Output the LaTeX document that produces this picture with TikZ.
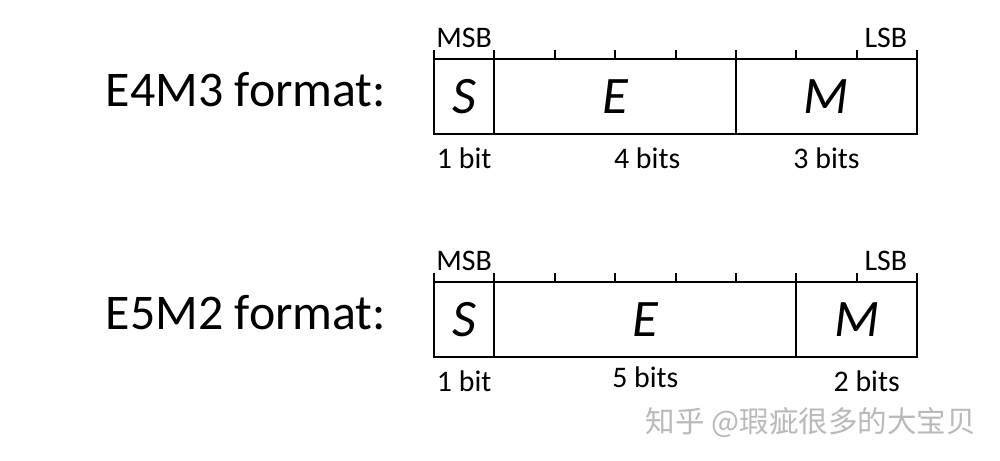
\documentclass[tikz,border=0pt]{standalone}
\usepackage{fontspec}
\setmainfont{Carlito}
\newfontfamily\cjkfont{Noto Sans CJK SC}
\usetikzlibrary{positioning}

\newcommand{\bitw}{1.208cm}

\begin{document}
\begin{tikzpicture}[x=0.02cm,y=-0.02cm,line width=1.1pt,node distance=0.2cm,
  field/.style={draw,outer sep=0pt,inner sep=0pt,minimum height=1.5cm,font=\fontsize{30}{34}\selectfont\itshape},
  title/.style={inner sep=0pt,font=\fontsize{28.4}{34}\selectfont},
  tag/.style={inner sep=0pt,font=\fontsize{17}{20}\selectfont},
  width/.style={inner sep=0pt,font=\fontsize{17}{20}\selectfont},
  credit/.style={inner sep=0pt,text=gray!55,font=\fontsize{16.8}{20}\selectfont\cjkfont}]
\useasboundingbox (0,0) rectangle (1000,460);

% E4M3
\node[field,minimum width=\bitw,anchor=north west] (s1) at (434,59) {S};
\node[field,minimum width=4*\bitw,right=0pt of s1] (e1) {E};
\node[field,minimum width=3*\bitw,right=0pt of e1] (m1) {M};
\foreach \i in {0,...,8}
  \draw (s1.north west) ++(\i*60.4,0) -- ++(0,-9);
\node[tag,above=of s1] (msb1) {MSB};
\node[tag,above left=0.2cm and 0.18cm of m1.north east] (lsb1) {LSB};
\node[width,below=0.26cm of s1] (w1s) {1 bit};
\node[width,below=0.26cm of e1,xshift=0.64cm] (w1e) {4 bits};
\node[width,below=0.26cm of m1] (w1m) {3 bits};
\node[title,left=0.94cm of s1,yshift=0.14cm] (fmt1) {E4M3 format:};

% E5M2
\node[field,minimum width=\bitw,anchor=north west] (s2) at (434,282) {S};
\node[field,minimum width=5*\bitw,right=0pt of s2] (e2) {E};
\node[field,minimum width=2*\bitw,right=0pt of e2] (m2) {M};
\foreach \i in {0,...,8}
  \draw (s2.north west) ++(\i*60.4,0) -- ++(0,-9);
\node[tag,above=of s2] (msb2) {MSB};
\node[tag,above left=0.2cm and 0.18cm of m2.north east] (lsb2) {LSB};
\node[width,below=0.26cm of s2] (w2s) {1 bit};
\node[width,below=0.18cm of e2] (w2e) {5 bits};
\node[width,below=0.26cm of m2,xshift=0.2cm] (w2m) {2 bits};
\node[title,left=0.94cm of s2,yshift=0.14cm] (fmt2) {E5M2 format:};

\node[credit,anchor=west] (zhihu) at (645,423) {知乎 @瑕疵很多的大宝贝};
\end{tikzpicture}
\end{document}
